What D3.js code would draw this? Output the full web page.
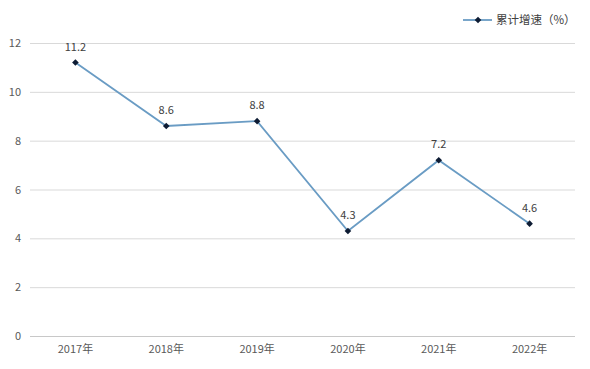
<!DOCTYPE html>
<html><head><meta charset="utf-8">
<script src="https://cdn.jsdelivr.net/npm/d3@7"></script>
<style>body{margin:0;background:#fff}svg{display:block;font-family:"Microsoft YaHei","Noto Sans CJK SC",sans-serif}</style>
</head><body><svg id="c" width="590" height="369"></svg>
<script>
const categories = ["2017年","2018年","2019年","2020年","2021年","2022年"];
const values = [11.2, 8.6, 8.8, 4.3, 7.2, 4.6];
const yTicks = [0,2,4,6,8,10,12];
const seriesName = "累计增速（%）";

const svg = d3.select("#c");
const x = d3.scaleBand().domain(categories).range([30,575]);
const y = d3.scaleLinear().domain([0,12]).range([336,43]);

svg.append("g").selectAll("line").data(yTicks).join("line")
  .attr("x1",30).attr("x2",575).attr("y1",d=>y(d)+0.5).attr("y2",d=>y(d)+0.5)
  .attr("stroke",d=>d===0?"#c8c8c8":"#d9d9d9").attr("stroke-width",1);

const yAxis = d3.axisLeft(y).tickValues(yTicks).tickSize(0).tickPadding(0);
const gy = svg.append("g").attr("transform","translate(21,0)").call(yAxis);
gy.select(".domain").remove();
gy.selectAll("text").attr("font-size",11).attr("fill","#595959").attr("font-family","Microsoft YaHei, Noto Sans CJK SC, sans-serif");

const xAxis = d3.axisBottom(x).tickSize(0).tickPadding(0);
const gx = svg.append("g").attr("transform","translate(0,345)").call(xAxis);
gx.select(".domain").remove();
gx.selectAll("text").attr("font-size",11).attr("fill","#595959").attr("font-family","Microsoft YaHei, Noto Sans CJK SC, sans-serif");

const cx = d=>x(d)+x.bandwidth()/2;
const line = d3.line().x((d,i)=>cx(categories[i])).y(d=>y(d));
svg.append("path").datum(values).attr("d",line).attr("fill","none")
  .attr("stroke","#6a9cc4").attr("stroke-width",1.8);

const sym = d3.symbol().type(d3.symbolSquare).size(22);
svg.append("g").selectAll("path").data(values).join("path")
  .attr("d",sym).attr("transform",(d,i)=>`translate(${cx(categories[i])},${y(d)}) rotate(45)`)
  .attr("fill","#0d1b33");

svg.append("g").selectAll("text").data(values).join("text")
  .attr("x",(d,i)=>cx(categories[i])).attr("y",d=>y(d)-12)
  .attr("text-anchor","middle").attr("font-size",11).attr("fill","#404040")
  .text(d=>d.toFixed(1));

const lg = svg.append("g");
lg.append("line").attr("x1",463).attr("x2",492).attr("y1",20).attr("y2",20).attr("stroke","#6a9cc4").attr("stroke-width",1.8);
lg.append("path").attr("d",sym).attr("transform","translate(478,20) rotate(45)").attr("fill","#0d1b33");
lg.append("text").attr("x",496).attr("y",24).attr("font-size",11.5).attr("fill","#404040").text(seriesName);
</script></body></html>
